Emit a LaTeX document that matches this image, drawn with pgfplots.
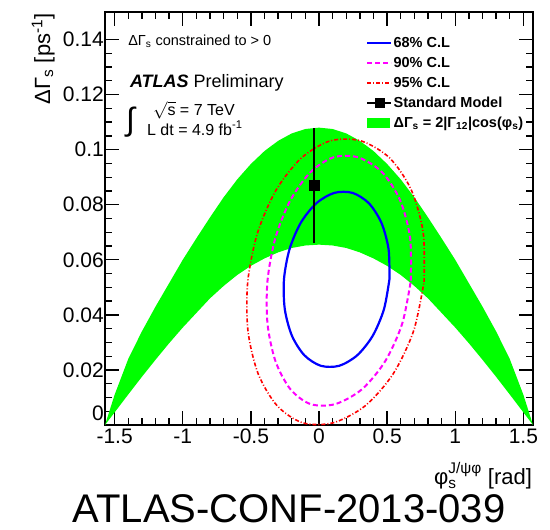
\documentclass[border=0pt]{standalone}
\usepackage{amsmath}
\usepackage{fontspec}
\setmainfont{Liberation Sans}
\usepackage{pgfplots}
\pgfplotsset{compat=1.18}
\definecolor{rootmag}{RGB}{255,0,255}
\definecolor{rootred}{RGB}{255,0,0}
\definecolor{rootblue}{RGB}{0,0,255}
\definecolor{rootgreen}{RGB}{0,255,0}
\begin{document}
\begin{tikzpicture}
\useasboundingbox (-105pt,-105pt) rectangle (445pt,425pt);
\begin{axis}[
  at={(0pt,0pt)}, anchor=south west,
  scale only axis, width=428pt, height=413pt,
  xmin=-1.5708, xmax=1.5708, ymin=0, ymax=0.15,
  xtick={-1.5,-1,-0.5,0,0.5,1,1.5},
  xticklabels={-1.5,-1,-0.5,0,0.5,1,1.5},
  ytick={0,0.02,0.04,0.06,0.08,0.1,0.12,0.14},
  yticklabels={\raisebox{4pt}[0pt][0pt]{0},0.02,0.04,0.06,0.08,0.1,0.12,0.14},
  scaled y ticks=false,
  minor x tick num=4, minor y tick num=3,
  tick align=inside, xtick pos=both, ytick pos=both,
  major tick length=14pt, minor tick length=7pt,
  axis line style={line width=1.6pt},
  tick style={black, line width=1.3pt},
  tick label style={font=\fontsize{21}{24}\selectfont},
  yticklabel style={inner xsep=1pt, inner ysep=1pt},
  xticklabel style={inner ysep=4pt, inner xsep=1pt},
  clip=false,
  legend style={draw=none, fill=none, inner sep=0pt, outer sep=0pt,
    at={(rel axis cs:0.610,0.9455)}, anchor=north west,
    font=\bfseries\fontsize{14.5}{16}\selectfont, row sep=3pt,
    nodes={inner sep=1.5pt, text height=11pt, text depth=3pt}},
  legend cell align=left,
]
\addlegendimage{legend image code/.code={\draw[rootblue, line width=2pt] (0pt,0pt) -- (24pt,0pt);}}
\addlegendentry{68\% C.L}
\addlegendimage{legend image code/.code={\draw[rootmag, line width=2pt, dash pattern=on 5pt off 3pt] (0pt,0pt) -- (24pt,0pt);}}
\addlegendentry{90\% C.L}
\addlegendimage{legend image code/.code={\draw[rootred, line width=1.6pt, dash pattern=on 4pt off 2pt on 1pt off 2pt] (0pt,0pt) -- (24pt,0pt);}}
\addlegendentry{95\% C.L}
\addlegendimage{legend image code/.code={\draw[black, line width=1.8pt] (0pt,0pt) -- (24pt,0pt); \fill[black] (8pt,-4.5pt) rectangle (17pt,4.5pt);}}
\addlegendentry{Standard Model}
\addlegendimage{legend image code/.code={\fill[rootgreen] (0pt,-4.5pt) rectangle (22pt,4.5pt);}}
\addlegendentry{ΔΓ$_{\text{s}}$ = 2|Γ$_{\text{12}}$|cos(φ$_{\text{s}}$)}

% green band: upper edge left->right, lower edge right->left
\addplot[fill=rootgreen, draw=none, forget plot] coordinates {
(-1.5708,0) (-1.5,0.0110) (-1.4,0.0240) (-1.3,0.0340) (-1.2,0.0430) (-1.1,0.0515)
(-1.0,0.0600) (-0.9,0.0678) (-0.8,0.0754) (-0.7,0.0827) (-0.6,0.0892) (-0.5,0.0948)
(-0.4,0.0995) (-0.3,0.1032) (-0.2,0.1059) (-0.1,0.1075) (0,0.1080)
(0.1,0.1075) (0.2,0.1059) (0.3,0.1032) (0.4,0.0995) (0.5,0.0948) (0.6,0.0892)
(0.7,0.0827) (0.8,0.0754) (0.9,0.0678) (1.0,0.0600) (1.1,0.0515) (1.2,0.0430)
(1.3,0.0340) (1.4,0.0240) (1.5,0.0110) (1.5708,0)
(1.5,0.0046) (1.4,0.0111) (1.3,0.0175) (1.2,0.0237) (1.1,0.0297) (1.0,0.0354)
(0.9,0.0407) (0.8,0.0460) (0.7,0.0505) (0.6,0.0545) (0.5,0.0578) (0.4,0.0605)
(0.3,0.0627) (0.2,0.0643) (0.1,0.0652) (0,0.0655)
(-0.1,0.0652) (-0.2,0.0643) (-0.3,0.0627) (-0.4,0.0605) (-0.5,0.0578) (-0.6,0.0545)
(-0.7,0.0505) (-0.8,0.0460) (-0.9,0.0407) (-1.0,0.0354) (-1.1,0.0297) (-1.2,0.0237)
(-1.3,0.0175) (-1.4,0.0111) (-1.5,0.0046)
} -- cycle;

% 95% CL
\addplot[rootred, line width=1.6pt, dash pattern=on 4pt off 2pt on 1pt off 2pt, smooth, forget plot] coordinates {
(0.771,0.0520) (0.765,0.0698) (0.6771,0.0854) (0.5182,0.0970) (0.3071,0.1032)
(0.0825,0.1032) (-0.1288,0.0970) (-0.3141,0.0854) (-0.451,0.0698) (-0.523,0.0520)
(-0.5214,0.0342) (-0.4465,0.0186) (-0.3072,0.0070) (-0.1203,0.0008) (0.1043,0.0008)
(0.3398,0.0070) (0.5447,0.0186) (0.6946,0.0342) (0.771,0.0520)
};
% 90% CL
\addplot[rootmag, line width=2pt, dash pattern=on 5pt off 3pt, smooth, forget plot] coordinates {
(0.674,0.0524) (0.6688,0.0680) (0.5955,0.0816) (0.4631,0.0918) (0.2875,0.0972)
(0.1049,0.0972) (-0.0629,0.0918) (-0.2104,0.0816) (-0.3198,0.0680) (-0.378,0.0524)
(-0.3780,0.0368) (-0.3196,0.0232) (-0.2101,0.0130) (-0.0625,0.0076) (0.1201,0.0076)
(0.3159,0.0130) (0.4863,0.0232) (0.6106,0.0368) (0.674,0.0524)
};
% 68% CL
\addplot[rootblue, line width=2.2pt, smooth, forget plot] coordinates {
(0.517,0.0529) (0.5108,0.0638) (0.4585,0.0734) (0.3668,0.0805) (0.2464,0.0843)
(0.1120,0.0843) (-0.0202,0.0805) (-0.1343,0.0734) (-0.2166,0.0638) (-0.257,0.0529)
(-0.2508,0.0420) (-0.1985,0.0324) (-0.1068,0.0253) (0.0136,0.0215) (0.1480,0.0215)
(0.2802,0.0253) (0.3943,0.0324) (0.4766,0.0420) (0.517,0.0529)
};
% Standard Model
\addplot[black, mark=square*, mark size=5pt, only marks, forget plot,
  error bars/.cd, y dir=both, y explicit, error mark=none,
  error bar style={line width=1.8pt, black}] coordinates {
(-0.0368,0.087) +- (0,0.021)
};

\node[anchor=base west, font=\fontsize{14.5}{16}\selectfont, inner sep=0pt] at (rel axis cs:0.054,0.920) {ΔΓ$_{\text{s}}$ constrained to > 0};
\node[anchor=base west, font=\fontsize{18}{20}\selectfont, inner sep=0pt] at (rel axis cs:0.058,0.818) {\textbf{\textit{ATLAS}} Preliminary};
\node[anchor=base west, font=\fontsize{16}{18}\selectfont, inner sep=0pt] at (rel axis cs:0.112,0.749) {$\smash{\sqrt{\text{s}}}$ = 7 TeV};
\node[anchor=base west, font=\fontsize{16}{18}\selectfont, inner sep=0pt] at (rel axis cs:0.098,0.702) {L dt = 4.9 fb$^{\text{-1}}$};
\node[anchor=base west, font=\fontsize{32}{34}\selectfont, inner sep=0pt] at (rel axis cs:0.049,0.712) {∫};

\node[anchor=base east, font=\fontsize{22}{24}\selectfont, inner sep=0pt] at (rel axis cs:0.998,-0.143) {$\text{φ}_{\text{s}}^{\text{J/ψφ}}$ [rad]};
\node[rotate=90, anchor=base east, font=\fontsize{22}{24}\selectfont, inner sep=0pt] at (rel axis cs:-0.1285,0.997) {ΔΓ$_{\text{s}}$ [ps$^{\text{-1}}$]};
\node[anchor=base, font=\fontsize{40}{42}\selectfont, inner sep=0pt] at (rel axis cs:0.43,-0.236) {ATLAS-CONF-2013-039};
\end{axis}
\end{tikzpicture}
\end{document}
